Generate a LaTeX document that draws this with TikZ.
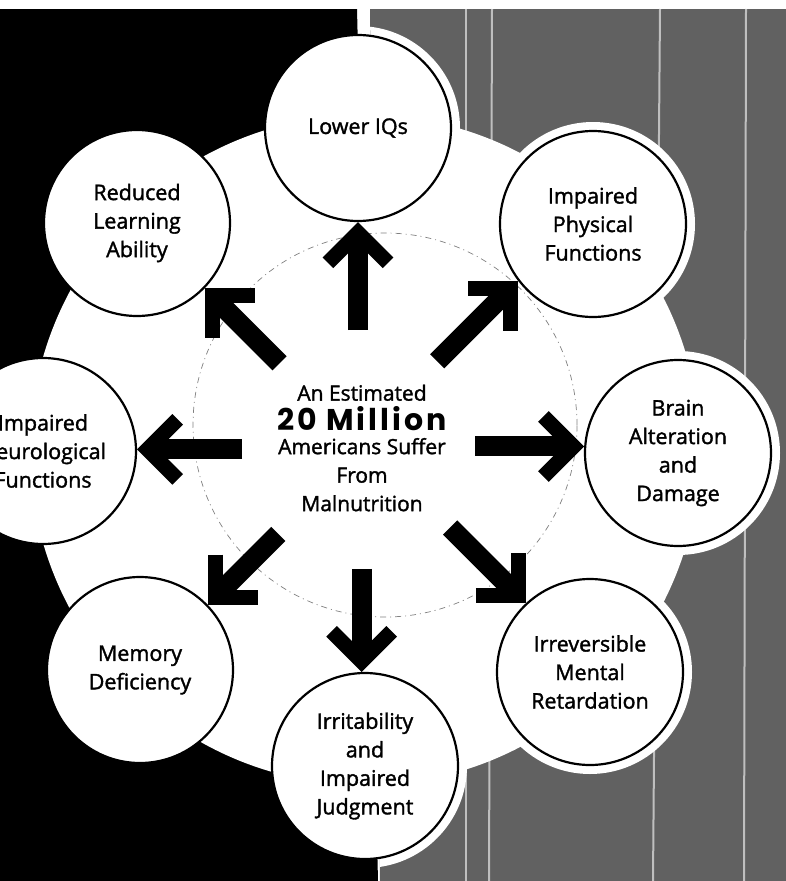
\documentclass[tikz,border=0pt]{standalone}
\usepackage{fontspec}
\setmainfont{Open Sans}
\newfontfamily\lblfont[FakeBold=1.6]{Open Sans}
\newfontfamily\bigfont[LetterSpace=10]{Poppins}
\usetikzlibrary{calc}
\definecolor{texgray}{gray}{0.38}
\tikzset{
  outer/.style={circle, draw=black, line width=2.2pt, fill=white, minimum size=186pt,
    inner sep=0pt, align=center, font=\lblfont\fontsize{21.5}{28.5}\selectfont},
  centertext/.style={align=center, inner sep=0pt, font=\lblfont\fontsize{21}{28.5}\selectfont},
  arrowstem/.style={line width=20pt, line cap=butt, draw=black},
  arrowhead/.style={line width=15pt, line cap=butt, line join=miter, draw=black},
  faintring/.style={draw=black!50, line width=0.7pt, dash pattern=on 6pt off 4pt on 1pt off 4pt},
  streak/.style={draw=black!25, line width=2pt},
  halo/.style={fill=white}
}
\newcommand\chevarrow[2]{%
  \coordinate (ctip) at (#2);
  \coordinate (cjoin) at ($(ctip)!10.6pt!(#1)$);
  \draw[arrowstem] (#1) -- (cjoin);
  \draw[arrowhead] ($(cjoin)!42.5pt!45:(#1)$) -- (cjoin) -- ($(cjoin)!42.5pt!-45:(#1)$);
}
\begin{document}
\begin{tikzpicture}[x=1pt,y=1pt]
\useasboundingbox (0,0) rectangle (786,-881);
\clip (0,0) rectangle (786,-881);
\fill[white] (0,0) rectangle (786,-881);
% backgrounds
\fill[black] (0,-9) -- (357,-9) -- (378,-881) -- (0,-881) -- cycle;
\fill[texgray] (370,-9) -- (786,-9) -- (786,-881) -- (380,-881) -- cycle;
\draw[streak] (466,-9) -- (466,-881);
\draw[streak] (492,-9) -- (489,-881);
\draw[streak] (660,-9) -- (653,-881);
\draw[streak] (746,-9) -- (744,-881);
% white halos on the textured side
\begin{scope}
  \clip (370,-9) -- (786,-9) -- (786,-881) -- (380,-881) -- cycle;
  \foreach \p in {(358,-128),(593,-224),(678,-453),(590,-672),(365,-766)}
    \fill[halo] \p circle[radius=102];
\end{scope}
% big disc
\fill[white] (365,-450) circle[radius=335];
\draw[faintring] (385,-425) circle[radius=192];
% outer circles
\node[outer] (nN)  at (358,-128) {Lower IQs};
\node[outer] (nNE) at (593,-224) {Impaired\\Physical\\Functions};
\node[outer] (nE)  at (678,-453) {Brain\\Alteration\\and\\Damage};
\node[outer] (nSE) at (590,-672) {Irreversible\\Mental\\Retardation};
\node[outer] (nS)  at (365,-766) {Irritability\\and\\Impaired\\Judgment};
\node[outer] (nSW) at (140,-670) {Memory\\Deficiency};
\node[outer] (nW)  at (43,-451)  {Impaired\\Neurological\\Functions};
\node[outer] (nNW) at (137,-223) {Reduced\\Learning\\Ability};
% centre text
\node[centertext] (ctr) at (362,-448) {An Estimated\\[1.5pt]{\bigfont\bfseries\fontsize{30}{30}\selectfont 20 Million}\\[-5pt]Americans Suffer\\From\\Malnutrition};
% arrow starts
\coordinate (sN)  at ($(nN.270)+(270:108)$);
\coordinate (sNE) at ($(nNE.217.5)+(225:114)$);
\coordinate (sE)  at ($(nE.176.3)+(180:109)$);
\coordinate (sSE) at ($(nSE.133.3)+(135:107)$);
\coordinate (sS)  at ($(nS.92)+(90:103)$);
\coordinate (sSW) at ($(nSW.44)+(45:100)$);
\coordinate (sW)  at ($(nW.1)+(0:105)$);
\coordinate (sNW) at ($(nNW.316)+(315:106)$);
\chevarrow{sN}{nN.270}
\chevarrow{sNE}{nNE.217.5}
\chevarrow{sE}{nE.176.3}
\chevarrow{sSE}{nSE.133.3}
\chevarrow{sS}{nS.92}
\chevarrow{sSW}{nSW.44}
\chevarrow{sW}{nW.1}
\chevarrow{sNW}{nNW.316}
\end{tikzpicture}
\end{document}
